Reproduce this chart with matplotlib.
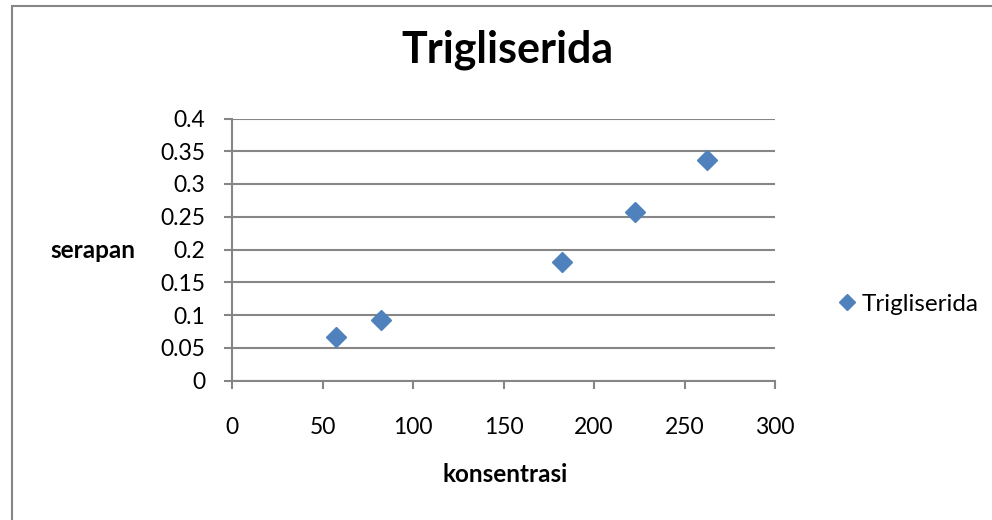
import matplotlib.pyplot as plt
from matplotlib.patches import Rectangle

# data
konsentrasi = [57.5, 82.5, 182.5, 222.5, 262.5]
serapan = [0.066, 0.092, 0.181, 0.257, 0.337]
x_ticks = [0, 50, 100, 150, 200, 250, 300]
y_ticks = [0, 0.05, 0.1, 0.15, 0.2, 0.25, 0.3, 0.35, 0.4]
y_labels = ["0", "0.05", "0.1", "0.15", "0.2", "0.25", "0.3", "0.35", "0.4"]

plt.rcParams['font.family'] = ['Lato', 'DejaVu Sans']

W, H = 992, 520
fig = plt.figure(figsize=(W / 100, H / 100), dpi=100)
fig.patch.set_facecolor("white")

# outer chart border (runs off right/bottom of picture)
fig.patches.append(Rectangle((12 / W, -0.1), 1.2, (H - 6) / H + 0.1,
                             transform=fig.transFigure, fill=False,
                             edgecolor="#868686", linewidth=1.5))

ax = fig.add_axes([232 / W, (H - 380.5) / H, (775 - 232) / W, (380.5 - 118.5) / H])

grey = "#868686"
ax.set_xlim(0, 300)
ax.set_ylim(0, 0.4)
ax.set_xticks(x_ticks)
ax.set_yticks(y_ticks)
ax.set_yticklabels(y_labels)
ax.yaxis.grid(True, color=grey, linewidth=1.5)
ax.set_axisbelow(True)

for s in ["top", "right"]:
    ax.spines[s].set_visible(False)
for s in ["left", "bottom"]:
    ax.spines[s].set_color(grey)
    ax.spines[s].set_linewidth(1.5)

ax.tick_params(axis="both", colors=grey, length=6, width=1.5,
               labelsize=16.5, labelcolor="black", direction="out")
ax.tick_params(axis="x", pad=20)
ax.tick_params(axis="y", pad=13)

ax.plot(konsentrasi, serapan, linestyle="none", marker="D", markersize=10,
        color="#4F81BD", label="Trigliserida", clip_on=False)

fig.text(507 / W, 1 - 63 / H, "Trigliserida", fontsize=31, fontweight="bold",
         ha="center", va="baseline")
fig.text(505 / W, 1 - 482 / H, "konsentrasi", fontsize=17.5, fontweight="bold",
         ha="center", va="baseline")
fig.text(92.5 / W, 1 - 258 / H, "serapan", fontsize=17.5, fontweight="bold",
         ha="center", va="baseline")

leg = fig.legend(loc="center left", bbox_to_anchor=(837 / W, 1 - 304 / H),
                 frameon=False, fontsize=17.5, handlelength=0.8, markerscale=0.85,
                 handletextpad=0.2, borderpad=0, borderaxespad=0)

fig.savefig("out.png", dpi=100)
